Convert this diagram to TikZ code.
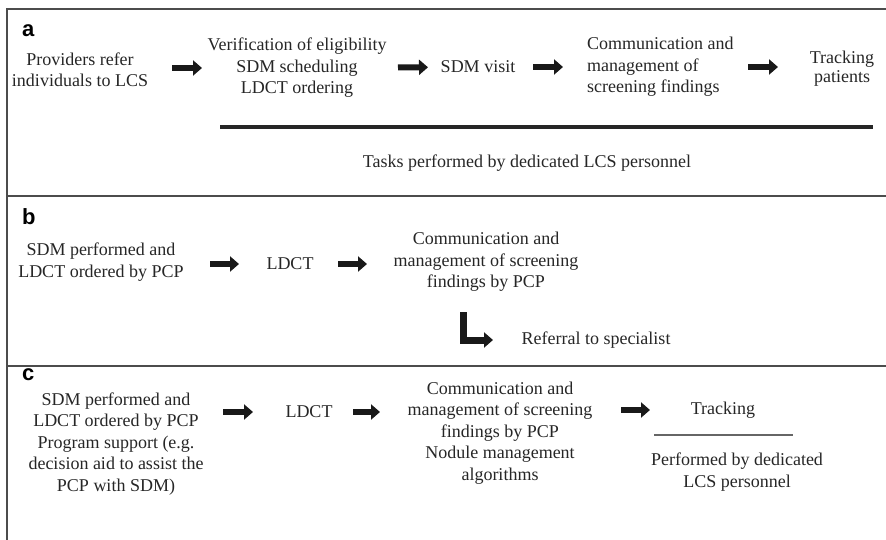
\documentclass[tikz,border=0pt]{standalone}
\usepackage{fontspec}
\setmainfont{Liberation Serif}
\newfontfamily\panelfont{Liberation Sans}
\usetikzlibrary{arrows.meta,positioning,calc}

\begin{document}
\begin{tikzpicture}[x=1pt, y=-1pt,
    txt/.style={font=\fontsize{18}{21.5}\selectfont, text=black!85, align=center, inner sep=0pt},
    panel/.style={font=\panelfont\bfseries\fontsize{22}{22}\selectfont, anchor=base west, inner sep=0pt},
    blk/.style={line width=6pt, black!90, -{Triangle[length=9pt, width=15pt]}},
    frame/.style={line width=1.6pt, black!70}]

    \useasboundingbox (0,0) rectangle (886,540);

    % outer frame and panel dividers
    \draw[frame] (886,9) -- (7,9) -- (7,540);
    \draw[frame] (7,196) -- (886,196);
    \draw[frame] (7,366) -- (886,366);

    % panel a: dedicated LCS personnel
    \node[panel] (la) at (22,37) {a};
    \node[txt] (prov) at (80,70) {Providers refer\\individuals to LCS};
    \node[txt] (verif) at (297,68) {Verification of eligibility\\SDM scheduling\\LDCT ordering};
    \node[txt] (visit) at (478,67) {SDM visit};
    \node[txt, align=left, anchor=west] (comm) at (587,67) {Communication and\\management of\\screening findings};
    \node[txt, font=\fontsize{18}{19}\selectfont] (track) at (842,69) {Tracking\\patients};

    \draw[blk, shorten <=92pt, shorten >=95pt] (prov.center |- verif.center) -- (verif.center);
    \draw[blk, shorten <=101pt, shorten >=50pt] (verif.center) -- (visit.center);
    \draw[blk, shorten <=55pt, shorten >=24pt] (visit.center) -- (comm.west);
    \draw[blk, shorten <=161pt, shorten >=64pt] (comm.west) -- (comm.west -| track.center);

    \draw[line width=4pt, black!85] (220,127) -- (873,127);
    \node[txt] (tasks) at (527,163) {Tasks performed by dedicated LCS personnel};

    % panel b: PCP only
    \node[panel] (lb) at (22,225) {b};
    \node[txt] (sdmb) at (101,262) {SDM performed and\\LDCT ordered by PCP};
    \node[txt] (ldctb) at (290,264) {LDCT};
    \node[txt] (commb) at (486,262) {Communication and\\management of screening\\findings by PCP};
    \node[txt] (refer) at (596,340) {Referral to specialist};

    \draw[blk, shorten <=109pt, shorten >=51pt] (sdmb.center |- ldctb.center) -- (ldctb.center);
    \draw[blk, shorten <=48pt, shorten >=119pt] (ldctb.center) -- (commb.center |- ldctb.center);
    \draw[blk, line width=7pt, miter limit=10, shorten <=50pt, shorten >=103pt] ([xshift=-23pt]commb.center) |- (refer.center);

    % panel c: PCP with program support
    \node[panel] (lc) at (22,380) {c};
    \node[txt] (sdmc) at (116,444) {SDM performed and\\LDCT ordered by PCP\\Program support (e.g.\\decision aid to assist the\\PCP with SDM)};
    \node[txt] (ldctc) at (309,412) {LDCT};
    \node[txt] (commc) at (500,433) {Communication and\\management of screening\\findings by PCP\\Nodule management\\algorithms};
    \node[txt] (trackc) at (723,410) {Tracking};
    \node[txt] (perf) at (737,472) {Performed by dedicated\\LCS personnel};

    \draw[blk, shorten <=107pt, shorten >=56pt] (sdmc.center |- ldctc.center) -- (ldctc.center);
    \draw[blk, shorten <=44pt, shorten >=120pt] (ldctc.center) -- (commc.center |- ldctc.center);
    \draw[blk, shorten <=121pt, shorten >=73pt] (commc.center |- trackc.center) -- (trackc.center);

    \draw[line width=1.2pt, black!60] (654,435) -- (793,435);
\end{tikzpicture}
\end{document}
